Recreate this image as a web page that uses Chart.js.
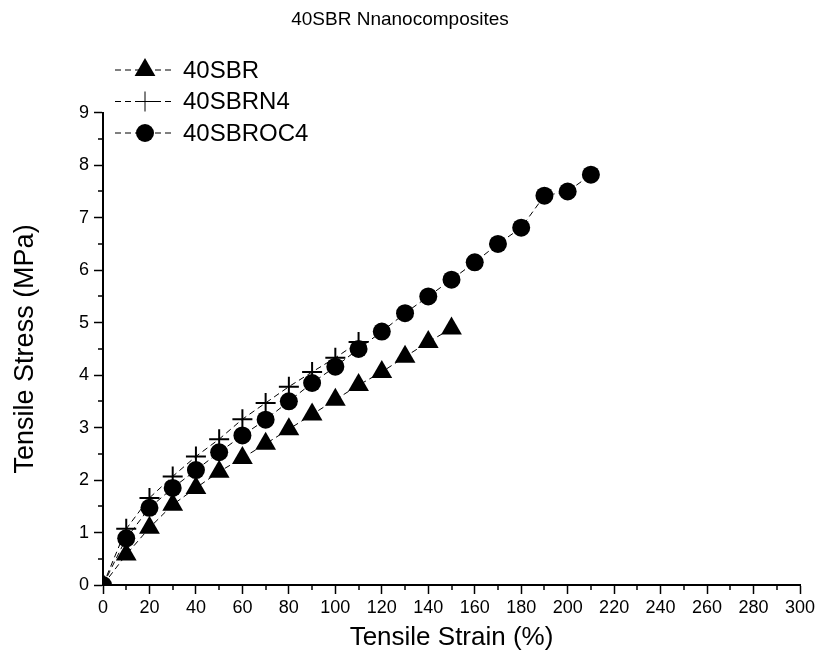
<!DOCTYPE html>
<html>
<head>
<meta charset="utf-8">
<script src="https://cdn.jsdelivr.net/npm/chart.js@4.4.0/dist/chart.umd.min.js"></script>
<style>
  html, body { margin: 0; padding: 0; background: #fff; }
  #wrap { width: 820px; height: 659px; }
</style>
</head>
<body>
<div id="wrap"><canvas id="chartSBR"></canvas></div>
<script>
const strain = [0, 10, 20, 30, 40, 50, 60, 70, 80, 90, 100, 110, 120, 130, 140, 150, 160, 170, 180, 190, 200, 210];
const sbr = [0, 0.58, 1.09, 1.53, 1.85, 2.16, 2.42, 2.69, 2.97, 3.25, 3.53, 3.81, 4.06, 4.35, 4.63, 4.89];
const sbrN4 = [0, 1.07, 1.66, 2.07, 2.45, 2.78, 3.16, 3.47, 3.78, 4.06, 4.33, 4.63];
const sbrOC4 = [0, 0.89, 1.47, 1.85, 2.19, 2.53, 2.85, 3.15, 3.5, 3.85, 4.16, 4.5, 4.83, 5.18, 5.5, 5.82, 6.15, 6.5, 6.81, 7.42, 7.5, 7.82];
const seriesNames = ['40SBR', '40SBRN4', '40SBROC4'];
const xMinorTicks = [10, 30, 50, 70, 90, 110, 130, 150, 170, 190, 210, 230, 250, 270, 290];
const yMinorTicks = [0.5, 1.5, 2.5, 3.5, 4.5, 5.5, 6.5, 7.5, 8.5];

const FONT = "'Liberation Sans', Arial, sans-serif";

function pts(ys) {
  return ys.map((y, i) => ({ x: strain[i], y: y }));
}

function series(label, ys, style, radius) {
  return {
    label: label,
    data: pts(ys),
    showLine: true,
    borderColor: '#000',
    borderWidth: 1,
    borderDash: [6, 4],
    backgroundColor: '#000',
    pointStyle: style,
    pointRadius: radius,
    pointHoverRadius: radius,
    pointBackgroundColor: '#000',
    pointBorderColor: '#000',
    pointBorderWidth: style === 'cross' ? 2 : 0
  };
}

// minor ticks + line/marker legend drawn on top
const extras = {
  id: 'extras',
  afterDraw(chart) {
    const ctx = chart.ctx;
    const xs = chart.scales.x, ys = chart.scales.y;
    ctx.save();
    ctx.strokeStyle = '#000';
    ctx.lineWidth = 1.5;
    ctx.beginPath();
    xMinorTicks.forEach(v => {
      const px = Math.round(xs.getPixelForValue(v));
      ctx.moveTo(px, xs.top);
      ctx.lineTo(px, xs.top + 5);
    });
    yMinorTicks.forEach(v => {
      const py = Math.round(ys.getPixelForValue(v));
      ctx.moveTo(ys.right, py);
      ctx.lineTo(ys.right - 5, py);
    });
    ctx.stroke();

    chart.data.datasets.forEach((ds, i) => {
      const y = 70 + i * 31.5;
      ctx.lineWidth = 1;
      ctx.setLineDash(ds.borderDash);
      ctx.beginPath();
      ctx.moveTo(115, y);
      ctx.lineTo(173, y);
      ctx.stroke();
      ctx.setLineDash([]);
      ctx.fillStyle = '#000';
      Chart.helpers.drawPoint(ctx, {
        pointStyle: ds.pointStyle,
        radius: ds.pointRadius,
        rotation: 0,
        borderWidth: ds.pointBorderWidth
      }, 145, y);
      ctx.font = '24px ' + FONT;
      ctx.textBaseline = 'middle';
      ctx.textAlign = 'left';
      ctx.fillText(ds.label, 183, y + 1);
    });
    ctx.restore();
  }
};

new Chart(document.getElementById('chartSBR'), {
  type: 'scatter',
  data: {
    datasets: [
      series(seriesNames[0], sbr, 'triangle', 12),
      series(seriesNames[1], sbrN4, 'cross', 10),
      series(seriesNames[2], sbrOC4, 'circle', 9)
    ]
  },
  options: {
    responsive: true,
    maintainAspectRatio: false,
    animation: false,
    layout: { padding: { left: 0, right: 20, top: 0, bottom: 0 } },
    plugins: {
      legend: { display: false },
      tooltip: { enabled: false },
      title: {
        display: true,
        text: '40SBR Nnanocomposites',
        color: '#000',
        font: { family: FONT, size: 19, weight: 'normal' },
        padding: { top: 8, bottom: 82 }
      }
    },
    scales: {
      x: {
        type: 'linear',
        min: 0,
        max: 300,
        afterFit(scale) { scale.height = 74; },
        border: { color: '#000', width: 2 },
        grid: { drawOnChartArea: false, tickLength: 9, tickWidth: 1.5, tickColor: '#000' },
        ticks: { stepSize: 20, color: '#000', padding: 3, maxRotation: 0, font: { family: FONT, size: 18 } },
        title: {
          display: true,
          text: 'Tensile Strain (%)',
          color: '#000',
          font: { family: FONT, size: 26 },
          padding: { top: 0, bottom: 6 }
        }
      },
      y: {
        type: 'linear',
        min: 0,
        max: 9,
        afterFit(scale) { scale.width = 103; },
        border: { color: '#000', width: 2 },
        grid: { drawOnChartArea: false, tickLength: 9, tickWidth: 1.5, tickColor: '#000' },
        ticks: { stepSize: 1, color: '#000', padding: 5, font: { family: FONT, size: 18 } },
        title: {
          display: true,
          text: 'Tensile Stress (MPa)',
          color: '#000',
          font: { family: FONT, size: 27 },
          padding: { top: 9, bottom: 0 }
        }
      }
    }
  },
  plugins: [extras]
});
</script>
</body>
</html>
